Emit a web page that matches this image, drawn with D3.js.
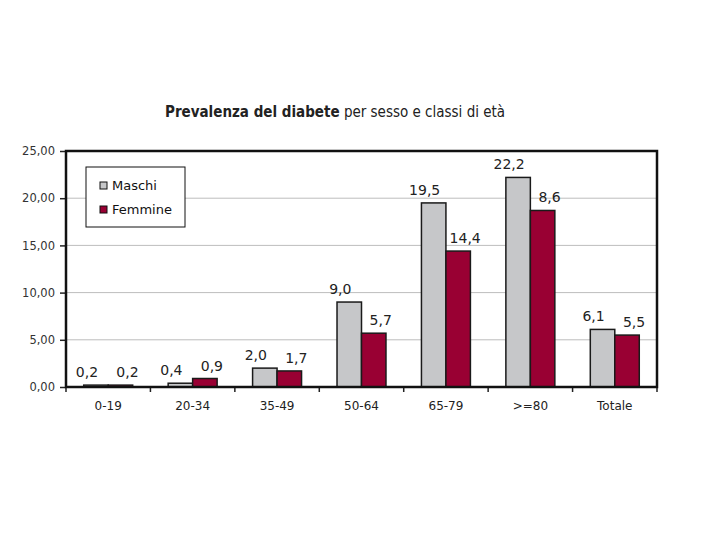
<!DOCTYPE html>
<html>
<head>
<meta charset="utf-8">
<script src="https://cdnjs.cloudflare.com/ajax/libs/d3/7.8.5/d3.min.js"></script>
<style>
  body { margin: 0; background: #fff; }
  text { font-family: "DejaVu Sans", Verdana, sans-serif; }
</style>
</head>
<body>
<div id="chart"></div>
<script>
var svgWidth = 720;
var svgHeight = 540;

var margin = { top: 151, right: 63, bottom: 153, left: 66 };
var width = svgWidth - margin.left - margin.right;
var height = svgHeight - margin.top - margin.bottom;

// data
var classi = ["0-19", "20-34", "35-49", "50-64", "65-79", ">=80", "Totale"];
var maschi = [0.2, 0.4, 2.0, 9.0, 19.5, 22.2, 6.1];
var femmine = [0.2, 0.9, 1.7, 5.7, 14.4, 18.7, 5.5];
// labels as printed on the original (the >=80 femmine label reads 8,6)
var labelMaschi = ["0,2", "0,4", "2,0", "9,0", "19,5", "22,2", "6,1"];
var labelFemmine = ["0,2", "0,9", "1,7", "5,7", "14,4", "8,6", "5,5"];
var yTicks = [0, 5, 10, 15, 20, 25];
var serie = ["Maschi", "Femmine"];
var colori = ["#c6c7c9", "#990033"];

var svg = d3.select("#chart")
  .append("svg")
  .attr("width", svgWidth)
  .attr("height", svgHeight);

// title
var title = svg.append("text")
  .attr("x", 165)
  .attr("y", 117)
  .attr("font-size", 15)
  .attr("fill", "#222")
  .style("font-family", "'DejaVu Sans Condensed', 'DejaVu Sans', sans-serif");
title.append("tspan").attr("font-weight", "bold").text("Prevalenza del diabete");
title.append("tspan").text(" per sesso e classi di età");

var chartGroup = svg.append("g")
  .attr("transform", `translate(${margin.left}, ${margin.top})`);

var xScale = d3.scaleBand()
  .domain(classi)
  .range([0, width]);

var yScale = d3.scaleLinear()
  .domain([0, 25])
  .range([height, 0]);

// gridlines
chartGroup.selectAll(".grid")
  .data(yTicks.slice(1))
  .enter()
  .append("line")
  .attr("x1", 0)
  .attr("x2", width)
  .attr("y1", d => yScale(d))
  .attr("y2", d => yScale(d))
  .attr("stroke", "#bdbdbd")
  .attr("stroke-width", 1);

// y axis
var leftAxis = d3.axisLeft(yScale)
  .tickValues(yTicks)
  .tickSize(6)
  .tickPadding(5)
  .tickFormat(d => d3.format(".2f")(d).replace(".", ","));

var yAxis = chartGroup.append("g").call(leftAxis);
yAxis.select(".domain").remove();
yAxis.selectAll("line").attr("stroke", "#222").attr("stroke-width", 1.5);
yAxis.selectAll("text").attr("font-size", 11.5).attr("fill", "#333")
  .style("font-family", "'DejaVu Sans', sans-serif");

// x axis
var bottomAxis = d3.axisBottom(xScale).tickSize(0).tickPadding(14);
var xAxis = chartGroup.append("g")
  .attr("transform", `translate(0, ${height})`)
  .call(bottomAxis);
xAxis.select(".domain").remove();
xAxis.selectAll("text").attr("font-size", 12).attr("fill", "#222")
  .style("font-family", "'DejaVu Sans', sans-serif");

// category tick marks on the x axis
chartGroup.selectAll(".xtick")
  .data(classi.concat(["fine"]))
  .enter()
  .append("line")
  .attr("x1", (d, i) => i * xScale.bandwidth())
  .attr("x2", (d, i) => i * xScale.bandwidth())
  .attr("y1", height)
  .attr("y2", height + 5)
  .attr("stroke", "#222")
  .attr("stroke-width", 1.5);

// bars
var barW = xScale.bandwidth() * 0.29;
var series = [maschi, femmine];
var labels = [labelMaschi, labelFemmine];
var labelShift = [-9, 7];

series.forEach(function(vals, s) {
  chartGroup.selectAll(".bar" + s)
    .data(vals)
    .enter()
    .append("rect")
    .attr("x", (d, i) => xScale(classi[i]) + xScale.bandwidth() / 2 - barW + s * barW)
    .attr("y", d => yScale(d))
    .attr("width", barW)
    .attr("height", d => height - yScale(d))
    .attr("fill", colori[s])
    .attr("stroke", "#1a1a1a")
    .attr("stroke-width", 1.5);

  chartGroup.selectAll(".lab" + s)
    .data(vals)
    .enter()
    .append("text")
    .attr("x", (d, i) => xScale(classi[i]) + xScale.bandwidth() / 2 - barW / 2 + s * barW + labelShift[s])
    .attr("y", d => yScale(d) - 8)
    .attr("text-anchor", "middle")
    .attr("font-size", 14)
    .attr("fill", "#222")
    .text((d, i) => labels[s][i]);
});

// frame
chartGroup.append("rect")
  .attr("x", 0)
  .attr("y", 0)
  .attr("width", width)
  .attr("height", height)
  .attr("fill", "none")
  .attr("stroke", "#111")
  .attr("stroke-width", 2.5);

// legend
var legend = svg.append("g").attr("transform", "translate(86, 167)");
legend.append("rect")
  .attr("width", 99)
  .attr("height", 60)
  .attr("fill", "#fff")
  .attr("stroke", "#111")
  .attr("stroke-width", 1);

serie.forEach(function(nome, i) {
  legend.append("rect")
    .attr("x", 14)
    .attr("y", 15 + i * 24)
    .attr("width", 7)
    .attr("height", 7)
    .attr("fill", colori[i])
    .attr("stroke", "#111")
    .attr("stroke-width", 1);
  legend.append("text")
    .attr("x", 26)
    .attr("y", 23 + i * 24)
    .attr("font-size", 13)
    .attr("fill", "#111")
    .text(nome);
});
</script>
</body>
</html>
